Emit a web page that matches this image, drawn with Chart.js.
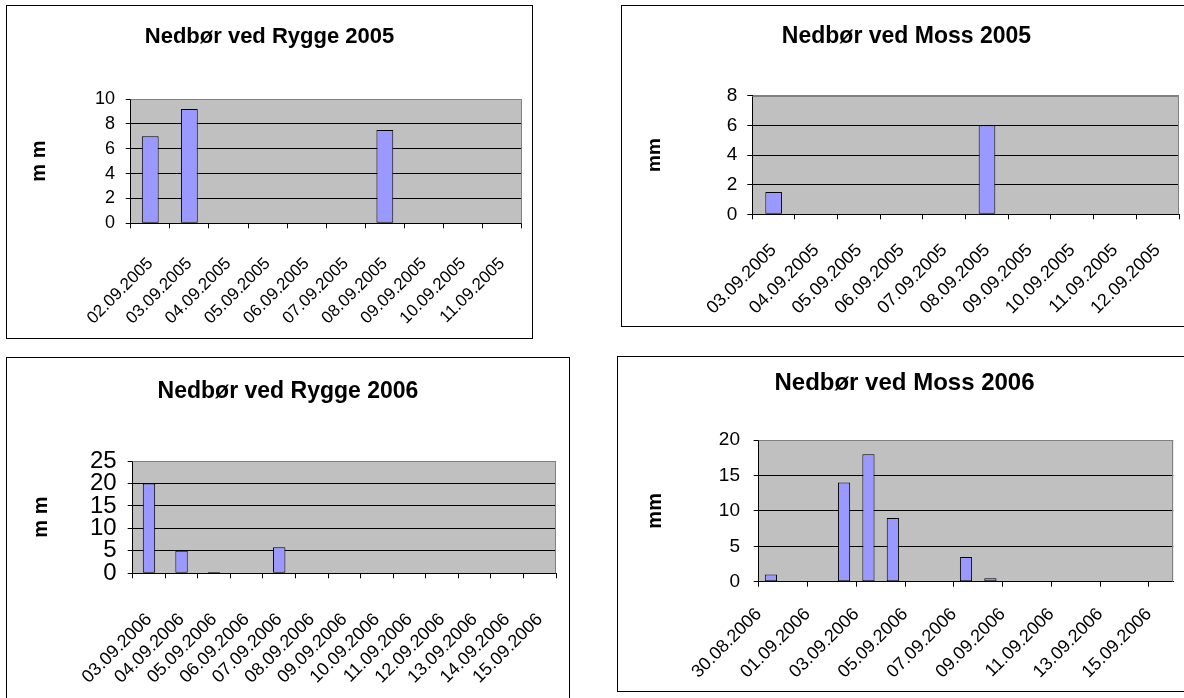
<!DOCTYPE html>
<html><head><meta charset="utf-8">
<script src="https://cdn.jsdelivr.net/npm/chart.js@4.4.1/dist/chart.umd.min.js"></script>
<style>
html,body{margin:0;padding:0;background:#fff;overflow:hidden;width:1184px;height:698px;position:relative;}
.box{position:absolute;border:1px solid #000;box-sizing:border-box;background:#fff;}
.box canvas{display:block;}
</style></head><body>
<div class="box" style="left:6px;top:5px;width:527px;height:334px"><canvas id="c1" width="525" height="332"></canvas></div>
<div class="box" style="left:621px;top:5px;width:571px;height:322px"><canvas id="c2" width="569" height="320"></canvas></div>
<div class="box" style="left:6px;top:357px;width:564px;height:360px"><canvas id="c3" width="562" height="358"></canvas></div>
<div class="box" style="left:617px;top:356px;width:575px;height:336px"><canvas id="c4" width="573" height="334"></canvas></div>
<script>
// ---- data ----
const rygge2005Dates = ['02.09.2005','03.09.2005','04.09.2005','05.09.2005','06.09.2005','07.09.2005','08.09.2005','09.09.2005','10.09.2005','11.09.2005'];
const rygge2005Values = [7.0, 9.2, 0, 0, 0, 0, 7.5, 0, 0, 0];

const moss2005Dates = ['03.09.2005','04.09.2005','05.09.2005','06.09.2005','07.09.2005','08.09.2005','09.09.2005','10.09.2005','11.09.2005','12.09.2005'];
const moss2005Values = [1.5, 0, 0, 0, 0, 6.0, 0, 0, 0, 0];

const rygge2006Dates = ['03.09.2006','04.09.2006','05.09.2006','06.09.2006','07.09.2006','08.09.2006','09.09.2006','10.09.2006','11.09.2006','12.09.2006','13.09.2006','14.09.2006','15.09.2006'];
const rygge2006Values = [20, 5, 0.3, 0, 5.8, 0, 0, 0, 0, 0, 0, 0, 0];

const moss2006Dates = ['30.08.2006','31.08.2006','01.09.2006','02.09.2006','03.09.2006','04.09.2006','05.09.2006','06.09.2006','07.09.2006','08.09.2006','09.09.2006','10.09.2006','11.09.2006','12.09.2006','13.09.2006','14.09.2006','15.09.2006'];
const moss2006Values = [1, 0, 0, 14, 18, 9, 0, 0, 3.5, 0.5, 0, 0, 0, 0, 0, 0, 0];

const titles = ['Nedbør ved Rygge 2005','Nedbør ved Moss 2005','Nedbør ved Rygge 2006','Nedbør ved Moss 2006'];
const yAxisTitles = ['m m','mm','m m','mm'];
const yMaxes = [10, 8, 25, 20];
const ySteps = [2, 2, 5, 5];

Chart.defaults.font.family = "'Liberation Sans', Arial, sans-serif";
Chart.defaults.color = '#000';

const plotBg = {
  id: 'plotBg',
  beforeDraw(chart) {
    const {ctx, chartArea: a} = chart;
    ctx.save();
    ctx.fillStyle = '#C0C0C0';
    ctx.fillRect(a.left, a.top, a.right - a.left, a.bottom - a.top);
    ctx.restore();
  },
  beforeDatasetsDraw(chart) {
    const {ctx, chartArea: a} = chart;
    ctx.save();
    ctx.strokeStyle = '#808080';
    ctx.lineWidth = 1;
    const r = Math.round(a.right) - 0.5;
    ctx.beginPath();
    ctx.moveTo(a.left, Math.round(a.top) + 0.5);
    ctx.lineTo(r, Math.round(a.top) + 0.5);
    ctx.lineTo(r, a.bottom);
    ctx.stroke();
    ctx.restore();
  }
};

// plotLeft / plotRightGap are in canvas pixels; side padding is symmetric so the title stays centred in the frame
function makeChart(id, o) {
  const linear = !!o.linearX;
  const data = linear ? o.values.map((v, i) => ({x: i + 0.5, y: v})) : o.values;
  const side = o.padRight;
  const fitX = s => { s.height = o.xH; s.paddingLeft = 0; s.paddingRight = 0; };
  const xScale = linear ? {
    type: 'linear', min: 0, max: o.labels.length, offset: false,
    grid: {offset: false, drawOnChartArea: false, drawTicks: true, tickLength: 5, color: '#000', tickColor: '#000'},
    border: {display: true, color: '#000', width: 1},
    ticks: {stepSize: 2, includeBounds: false, autoSkip: false, maxRotation: 45, minRotation: 45,
      padding: o.xPad, font: {size: o.xFont}, color: '#000',
      callback: v => (Number.isInteger(v) && o.labels[v]) ? o.labels[v] : ''},
    afterFit: fitX
  } : {
    type: 'category', offset: true,
    grid: {offset: true, drawOnChartArea: false, drawTicks: true, tickLength: 5, color: '#000', tickColor: '#000'},
    border: {display: true, color: '#000', width: 1},
    ticks: {autoSkip: false, maxRotation: 45, minRotation: 45, padding: o.xPad, font: {size: o.xFont}, color: '#000'},
    afterFit: fitX
  };
  return new Chart(document.getElementById(id), {
    type: 'bar',
    data: {
      labels: linear ? undefined : o.labels,
      datasets: [{data, backgroundColor: '#9999FF', borderColor: '#000', borderWidth: 1,
        borderSkipped: false, barPercentage: o.barPct, categoryPercentage: 1}]
    },
    options: {
      responsive: false, animation: false, devicePixelRatio: 1,
      layout: {padding: {left: side, top: 0, right: side, bottom: 0}},
      plugins: {
        legend: {display: false}, tooltip: {enabled: false},
        title: {display: true, text: o.title, color: '#000',
          font: {size: o.titleSize, weight: 'bold'}, padding: {top: o.titleTop, bottom: o.titleBottom}}
      },
      scales: {
        x: xScale,
        y: {
          min: 0, max: o.yMax,
          grid: {color: c => (c.tick && c.tick.value === o.yMax) ? '#808080' : '#000',
            tickColor: '#000', tickLength: 5, drawTicks: true, lineWidth: 1},
          border: {display: true, color: '#000', width: 1},
          ticks: {stepSize: o.yStep, autoSkip: false, padding: o.yPad, font: {size: o.yFont}, color: '#000'},
          title: {display: true, text: o.yTitle, color: '#000',
            font: {size: o.yTitleSize, weight: 'bold'}, padding: {top: o.yTitlePad - side, bottom: 0}},
          afterFit: s => { s.width = o.yW - side; }
        }
      }
    },
    plugins: [plotBg]
  });
}

makeChart('c1', {labels: rygge2005Dates, values: rygge2005Values, title: titles[0], yTitle: yAxisTitles[0],
  yMax: yMaxes[0], yStep: ySteps[0], barPct: 0.43,
  titleSize: 22, titleTop: 17.5, titleBottom: 49.1, padRight: 10.3,
  yW: 123.7, yPad: 10.7, yFont: 18, yTitleSize: 20, yTitlePad: 20.7,
  xH: 114.7, xPad: 25.4, xFont: 17});

makeChart('c2', {labels: moss2005Dates, values: moss2005Values, title: titles[1], yTitle: yAxisTitles[1],
  yMax: yMaxes[1], yStep: ySteps[1], barPct: 0.39,
  titleSize: 23, titleTop: 16.5, titleBottom: 45.6, padRight: 12,
  yW: 130.3, yPad: 10, yFont: 19, yTitleSize: 19, yTitlePad: 21.6,
  xH: 111.7, xPad: 20.4, xFont: 18});

makeChart('c3', {labels: rygge2006Dates, values: rygge2006Values, title: titles[2], yTitle: yAxisTitles[2],
  yMax: yMaxes[2], yStep: ySteps[2], barPct: 0.38,
  titleSize: 23, titleTop: 19.9, titleBottom: 55.5, padRight: 13,
  yW: 125.7, yPad: 11, yFont: 24, yTitleSize: 20, yTitlePad: 22.7,
  xH: 142.7, xPad: 30.7, xFont: 18});

makeChart('c4', {labels: moss2006Dates, values: moss2006Values, title: titles[3], yTitle: yAxisTitles[3],
  yMax: yMaxes[3], yStep: ySteps[3], barPct: 0.5, linearX: true,
  titleSize: 24, titleTop: 11.9, titleBottom: 42.3, padRight: 17.7,
  yW: 140.7, yPad: 13.7, yFont: 19, yTitleSize: 20, yTitlePad: 25,
  xH: 109.3, xPad: 17, xFont: 18});
</script>
</body></html>
